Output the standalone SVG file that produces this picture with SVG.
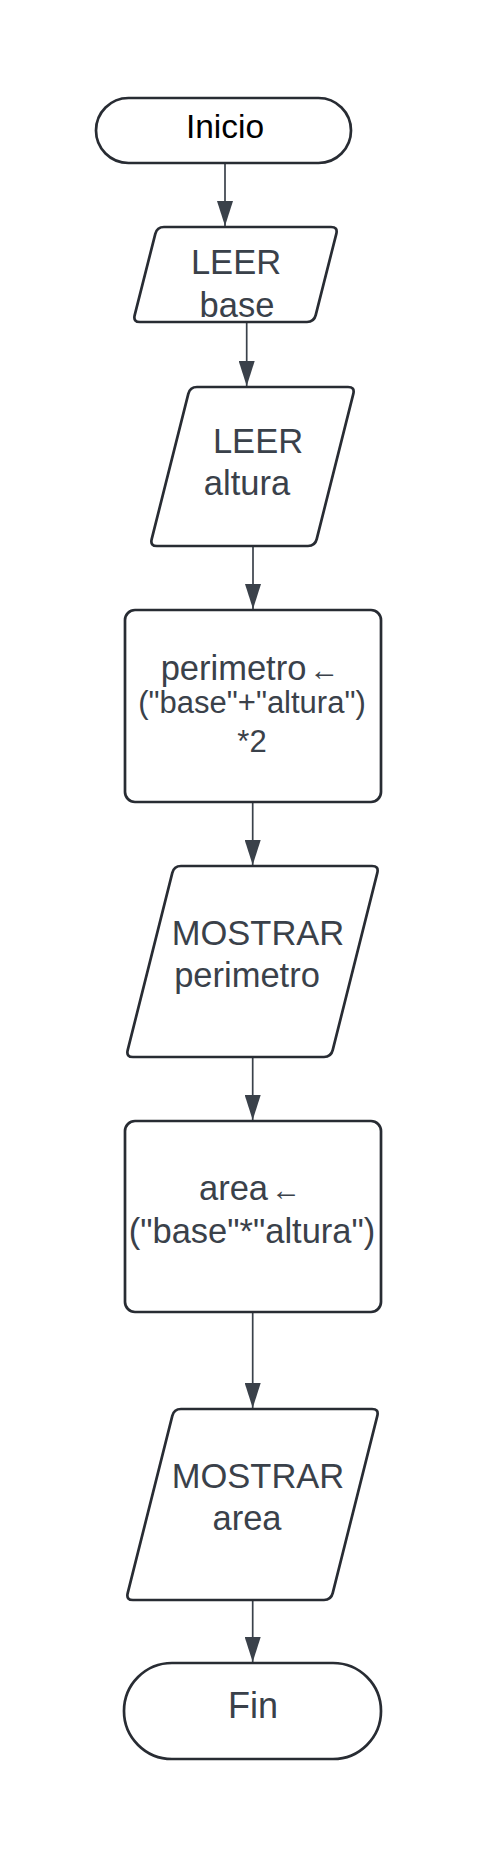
<svg xmlns="http://www.w3.org/2000/svg" width="478" height="1859" viewBox="0 0 478 1859">
<defs>
<style>
.node{fill:#ffffff;stroke:#282c33;stroke-width:2.7}
.t{font-family:"Liberation Sans",Arial,sans-serif;font-size:34.5px;fill:#3a414a;text-anchor:middle}
.s{font-size:31px}
.edge{stroke:#3a414a;stroke-width:1.7;fill:none}
.arr{font-size:30px}
</style>
<marker id="ah" viewBox="0 0 25 16" refX="25" refY="8" markerWidth="25" markerHeight="16" markerUnits="userSpaceOnUse" orient="auto">
<path d="M0,0 L25,8 L0,16 Z" fill="#3a414a"/>
</marker>
</defs>
<rect width="478" height="1859" fill="#ffffff"/>
<g id="connectors">
<line class="edge" x1="225" y1="163" x2="225" y2="226" marker-end="url(#ah)"/>
<line class="edge" x1="246.7" y1="322" x2="246.7" y2="386" marker-end="url(#ah)"/>
<line class="edge" x1="253" y1="546" x2="253" y2="609" marker-end="url(#ah)"/>
<line class="edge" x1="252.7" y1="802" x2="252.7" y2="865" marker-end="url(#ah)"/>
<line class="edge" x1="252.7" y1="1057" x2="252.7" y2="1120" marker-end="url(#ah)"/>
<line class="edge" x1="252.7" y1="1313" x2="252.7" y2="1408" marker-end="url(#ah)"/>
<line class="edge" x1="252.7" y1="1600" x2="252.7" y2="1662" marker-end="url(#ah)"/>
</g>
<g id="inicio">
<rect class="node" x="96" y="98" width="255" height="65" rx="32.5"/>
<text class="t" x="225" y="138" style="fill:#000000;font-size:33.5px">Inicio</text>
</g>
<g id="leer-base">
<path class="node" d="M164,227 H331 Q338,227 336.3,233.8 L315.7,315.2 Q314,322 307,322 H140 Q133,322 134.7,315.2 L155.3,233.8 Q157,227 164,227 Z"/>
<text class="t" x="236" y="274">LEER</text>
<text class="t" x="237" y="317">base</text>
</g>
<g id="leer-altura">
<path class="node" d="M197,387 H348 Q355,387 353.3,393.8 L316.7,539.2 Q315,546 308,546 H157 Q150,546 151.7,539.2 L188.3,393.8 Q190,387 197,387 Z"/>
<text class="t" x="258" y="453">LEER</text>
<text class="t" x="247" y="495">altura</text>
</g>
<g id="perimetro-calc">
<rect class="node" x="125" y="610" width="256" height="192" rx="10"/>
<text class="t" x="250" y="680">perimetro<tspan class="arr" dx="3">←</tspan></text>
<text class="t s" x="252" y="713">("base"+"altura")</text>
<text class="t s" x="252" y="752">*2</text>
</g>
<g id="mostrar-perimetro">
<path class="node" d="M181,866 H372 Q379,866 377.3,872.8 L332.7,1050.2 Q331,1057 324,1057 H133 Q126,1057 127.7,1050.2 L172.3,872.8 Q174,866 181,866 Z"/>
<text class="t" x="258" y="945">MOSTRAR</text>
<text class="t" x="247" y="987">perimetro</text>
</g>
<g id="area-calc">
<rect class="node" x="125" y="1121" width="256" height="191" rx="10"/>
<text class="t" x="250" y="1200">area<tspan class="arr" dx="3">←</tspan></text>
<text class="t" x="252" y="1243">("base"*"altura")</text>
</g>
<g id="mostrar-area">
<path class="node" d="M181,1409 H372 Q379,1409 377.3,1415.8 L332.7,1593.2 Q331,1600 324,1600 H133 Q126,1600 127.7,1593.2 L172.3,1415.8 Q174,1409 181,1409 Z"/>
<text class="t" x="258" y="1488">MOSTRAR</text>
<text class="t" x="247" y="1530">area</text>
</g>
<g id="fin">
<rect class="node" x="124" y="1663" width="257" height="96" rx="48"/>
<text class="t" x="253" y="1718" style="font-size:36px">Fin</text>
</g>
</svg>
